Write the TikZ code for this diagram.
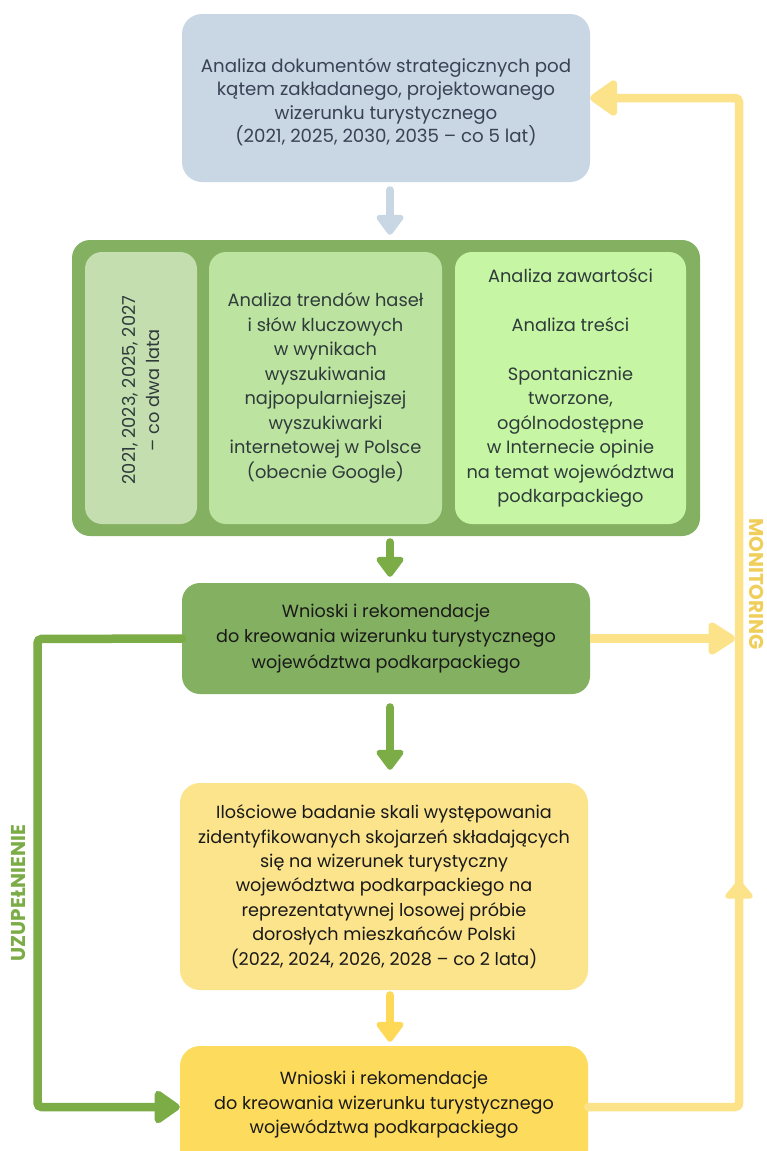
\documentclass[tikz,border=0pt]{standalone}
\usepackage{fontspec}
\setmainfont{Poppins}
\usetikzlibrary{arrows.meta}
\definecolor{topblue}{HTML}{C9D6E3}
\definecolor{toptext}{HTML}{3A4256}
\definecolor{panelgreen}{HTML}{84B062}
\definecolor{boxA}{HTML}{C5DEB0}
\definecolor{boxB}{HTML}{BCE3A0}
\definecolor{boxC}{HTML}{C6F5A3}
\definecolor{midtext}{HTML}{2F3B3B}
\definecolor{linegreen}{HTML}{7BAC45}
\definecolor{boxyellow}{HTML}{FCE48C}
\definecolor{boxgold}{HTML}{FDDB5C}
\definecolor{lineyellow}{HTML}{FCE38A}
\definecolor{arrowgold}{HTML}{FDD957}
\definecolor{montext}{HTML}{F0CE5A}
\begin{document}
\begin{tikzpicture}[x=1pt,y=-1pt,
  box/.style={rectangle, rounded corners=20pt, draw=none, inner sep=0pt, align=center},
  inbox/.style={rectangle, rounded corners=17pt, draw=none, inner sep=0pt, align=center, minimum height=272pt},
  downarrow/.style={line width=8pt, line cap=round, -{Triangle[round,width=31pt,length=22pt]}},
  loopline/.style={line width=8.5pt, line cap=round, rounded corners=4pt},
  toptxt/.style={font=\fontsize{18.2}{23.5}\selectfont, text=toptext, align=center},
  midtxt/.style={font=\fontsize{17.8}{24.5}\selectfont, text=midtext},
  lowtxt/.style={font=\fontsize{17.6}{25.5}\selectfont, text=black!90},
  yeltxt/.style={font=\fontsize{17.6}{24.4}\selectfont, text=black!90},
  sidetxt/.style={font=\bfseries\fontsize{20}{24}\selectfont},
]
\clip (0,0) rectangle (767,1151);
\fill[white] (0,0) rectangle (767,1151);

% boxes
\node[box, fill=topblue, minimum width=408pt, minimum height=168pt] (top) at (386,98) {};
\node[toptxt] (topt) at (386,102)
 {Analiza dokumentów strategicznych pod\\kątem zakładanego, projektowanego\\wizerunku turystycznego\\(2021, 2025, 2030, 2035 – co 5 lat)};

\node[box, fill=panelgreen, rounded corners=18pt, minimum width=628pt, minimum height=296pt] (panel) at (386,388) {};
\node[inbox, fill=boxA, minimum width=112pt] (b1) at (141,388) {};
\node[midtxt, rotate=90, align=center] (b1t) at (141,390) {2021, 2023, 2025, 2027\\– co dwa lata};
\node[inbox, fill=boxB, minimum width=233pt, midtxt] (b2) at (325.5,388)
 {Analiza trendów haseł\\i słów kluczowych\\w wynikach\\wyszukiwania\\najpopularniejszej\\wyszukiwarki\\internetowej w Polsce\\(obecnie Google)};
\node[inbox, fill=boxC, minimum width=231pt, midtxt] (b3) at (570.5,388)
 {Analiza zawartości\\[24.5pt]Analiza treści\\[24.5pt]Spontanicznie\\tworzone,\\ogólnodostępne\\w Internecie opinie\\na temat województwa\\podkarpackiego};

\node[box, fill=panelgreen, rounded corners=18pt, minimum width=408pt, minimum height=111pt, lowtxt] (gbox) at (386,638.5)
 {Wnioski i rekomendacje\\do kreowania wizerunku turystycznego\\województwa podkarpackiego};

\node[box, fill=boxyellow, minimum width=408pt, minimum height=207pt, yeltxt] (ybox) at (384,886.5)
 {Ilościowe badanie skali występowania\\zidentyfikowanych skojarzeń składających\\się na wizerunek turystyczny\\województwa podkarpackiego na\\reprezentatywnej losowej próbie\\dorosłych mieszkańców Polski\\(2022, 2024, 2026, 2028 – co 2 lata)};

\node[box, fill=boxgold, minimum width=408pt, minimum height=124pt] (bbox) at (384,1108) {};
\node[lowtxt, align=center, font=\fontsize{17.6}{24.5}\selectfont] (bboxt) at (384,1105)
 {Wnioski i rekomendacje\\do kreowania wizerunku turystycznego\\województwa podkarpackiego};

% vertical flow arrows
\draw[downarrow, topblue, shorten <=8pt, shorten >=5pt] ([xshift=4pt]top.south) -- ([xshift=4pt]panel.north);
\draw[downarrow, linegreen, shorten <=6pt, shorten >=6pt] ([xshift=4pt]panel.south) -- ([xshift=4pt]gbox.north);
\draw[downarrow, linegreen, shorten <=13pt, shorten >=13pt] ([xshift=4pt]gbox.south) -- ([xshift=6pt]ybox.north);
\draw[downarrow, arrowgold, shorten <=5pt, shorten >=4pt] ([xshift=6pt]ybox.south) -- ([xshift=6pt]bbox.north);

% left loop (UZUPELNIENIE)
\coordinate (gl1) at (37.5,639);
\coordinate (gl2) at (37.5,1107);
\draw[loopline, linegreen, -{Triangle[round,width=37pt,length=28pt]}] (gbox.west) -- (gl1) -- (gl2) -- (bbox.west |- gl2);
\node[sidetxt, text=linegreen, rotate=90] (uzu) at (19,893) {UZUPEŁNIENIE};

% right loop (MONITORING)
\coordinate (yr1) at (739,1107);
\coordinate (yr2) at (739,98);
\coordinate (ymid) at (739,880);
\draw[loopline, lineyellow, -{Triangle[round,width=40pt,length=30pt]}] (bbox.east |- yr1) -- (yr1) -- (yr2) -- (top.east |- yr2);
\draw[line width=8.5pt, lineyellow, -{Triangle[round,width=32pt,length=20pt]}] (yr1) -- (ymid);
\draw[line width=8.5pt, lineyellow, shorten >=4pt, -{Triangle[round,width=36pt,length=30pt]}] (gbox.east) -- (gbox.east -| yr1);
\node[sidetxt, text=montext, rotate=-90] (mon) at (757,584) {MONITORING};
\end{tikzpicture}
\end{document}
